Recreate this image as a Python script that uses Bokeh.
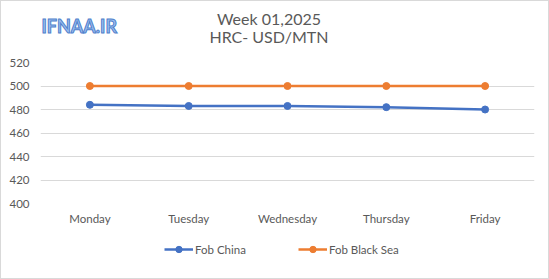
from bokeh.plotting import figure
from bokeh.layouts import column
from bokeh.models import ColumnDataSource, Label, Legend, LegendItem, FixedTicker, Range1d
from bokeh.embed import file_html
from bokeh.resources import INLINE

days = ["Monday", "Tuesday", "Wednesday", "Thursday", "Friday"]
fob_china = [484, 483, 483, 482, 480]
fob_black_sea = [500, 500, 500, 500, 500]
y_ticks = [400, 420, 440, 460, 480, 500, 520]
series_names = ["Fob China", "Fob Black Sea"]

FONT = "Lato"
GRAY = "#595959"
BLUE = "#4472C4"
ORANGE = "#ED7D31"
W = 547
TOP_H, MAIN_H, BOT_H = 53, 178, 46

def strip(h, x_range=None, y_range=None):
    f = figure(width=W, height=h,
               x_range=x_range if x_range is not None else Range1d(0, W),
               y_range=y_range if y_range is not None else Range1d(h, 0),
               output_backend="svg", toolbar_location=None,
               min_border=0, min_border_left=0, min_border_right=0,
               min_border_top=0, min_border_bottom=0)
    f.axis.visible = False
    f.grid.visible = False
    f.outline_line_color = None
    f.background_fill_color = "white"
    f.border_fill_color = "white"
    return f

# ---- title strip
top = strip(TOP_H)
top.add_layout(Label(x=253, y=17, text="Week 01,2025", text_align="center",
                     text_baseline="middle", text_font=FONT, text_font_size="16px",
                     text_color=GRAY))
top.add_layout(Label(x=253, y=35, text="HRC- USD/MTN", text_align="center",
                     text_baseline="middle", text_font=FONT, text_font_size="16px",
                     text_color=GRAY))
top.add_layout(Label(x=1, y=24, text="IFNAA.IR", text_align="left",
                     text_baseline="middle", text_font=FONT, text_font_style="bold",
                     text_font_size="18px", text_color="#9cc0ef",
                     text_outline_color="#4f7fcc"))

# ---- main chart
src = ColumnDataSource(dict(day=days, china=fob_china, bsea=fob_black_sea))
p = figure(width=W, height=MAIN_H, x_range=days, y_range=(400, 520),
           output_backend="svg", toolbar_location=None,
           min_border_left=39, min_border_right=14, min_border_top=8, min_border_bottom=29)
p.outline_line_color = None
p.background_fill_color = "white"
p.border_fill_color = "white"

p.line("day", "china", source=src, line_color=BLUE, line_width=2.5)
p.scatter("day", "china", source=src, size=7, fill_color=BLUE, line_color=BLUE)
p.line("day", "bsea", source=src, line_color=ORANGE, line_width=2.5)
p.scatter("day", "bsea", source=src, size=7, fill_color=ORANGE, line_color=ORANGE)

p.xgrid.grid_line_color = None
p.ygrid.grid_line_color = "#d9d9d9"
p.ygrid.grid_line_width = 1
p.yaxis.ticker = FixedTicker(ticks=y_ticks)

for ax in (p.xaxis[0], p.yaxis[0]):
    ax.axis_line_color = None
    ax.major_tick_line_color = None
    ax.minor_tick_line_color = None
    ax.major_tick_out = 0
    ax.major_tick_in = 0
    ax.minor_tick_out = 0
    ax.major_label_text_font = FONT
    ax.major_label_text_font_size = "11.5px"
    ax.major_label_text_color = GRAY
p.yaxis.major_label_standoff = 11
p.xaxis.major_label_standoff = 8

# ---- legend strip: series drawn outside its visible y range, only the legend shows
bot = strip(BOT_H, x_range=days, y_range=Range1d(0, 1))
items = []
for name, field, col in zip(series_names, ["china", "bsea"], [BLUE, ORANGE]):
    lr = bot.line("day", field, source=src, line_color=col, line_width=2.5)
    sr = bot.scatter("day", field, source=src, size=7, fill_color=col, line_color=col)
    items.append(LegendItem(label=name, renderers=[lr, sr]))
legend = Legend(items=items, orientation="horizontal", location=(124, 21),
                border_line_color=None, background_fill_alpha=0,
                label_text_font=FONT, label_text_font_size="11.5px", label_text_color=GRAY,
                glyph_width=29, glyph_height=16, label_standoff=2, spacing=52,
                padding=0, margin=0)
bot.add_layout(legend, "center")

layout = column(top, p, bot, spacing=0, styles={"border": "1px solid #d9d9d9"})

open("out.html", "w").write(file_html(layout, INLINE))
